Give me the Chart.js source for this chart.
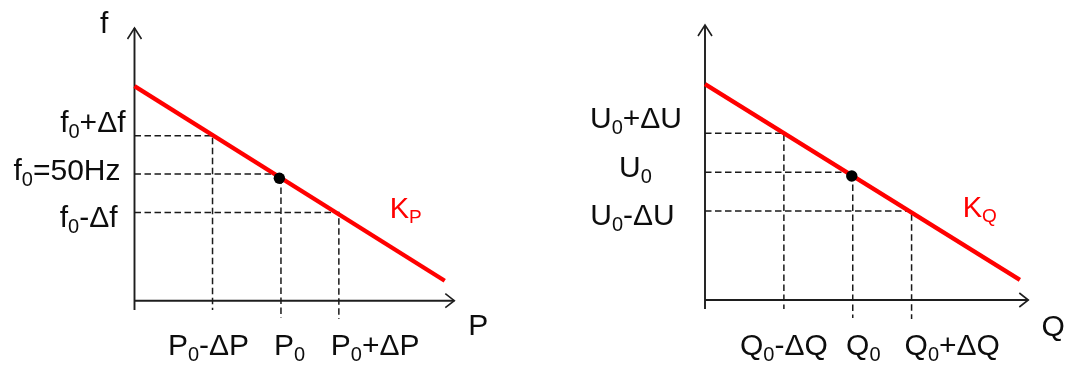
<!DOCTYPE html>
<html><head><meta charset="utf-8">
<script src="https://cdn.jsdelivr.net/npm/chart.js@4/dist/chart.umd.min.js"></script>
<style>
html,body{margin:0;padding:0;background:#fff;width:1067px;height:365px;overflow:hidden}
#cl{position:absolute;left:0;top:0}
#cr{position:absolute;left:533px;top:0}
</style></head><body>
<canvas id="cl" width="533" height="365"></canvas>
<canvas id="cr" width="534" height="365"></canvas>
<script>
// ---------------- data (axis units 0..100) ----------------
// Left panel: P-f droop
const pLineX   = [0, 97.0];
const pLineY   = [78.7, 7.3];
const pPointX  = [45.3];
const pPointY  = [44.9];
const pGuideX  = [24.4, 45.8, 63.9];
const pGuideY  = [60.5, 46.5, 32.3];
const pGuideEnd = [-3.4, -6.3, -6.7];
const pXTicks  = ['P_0-ΔP', 'P_0', 'P_0+ΔP'];
const pYTicks  = ['f_0+Δf', 'f_0=50Hz', 'f_0-Δf'];
const pXTitle  = 'P';
const pYTitle  = 'f';
const pCurve   = 'K_P';

// Right panel: Q-U droop
const qLineX   = [0, 97.4];
const qLineY   = [78.5, 7.3];
const qPointX  = [45.4];
const qPointY  = [45.1];
const qGuideX  = [24.4, 45.7, 63.9];
const qGuideY  = [60.6, 46.5, 32.4];
const qGuideEnd = [-3.3, -6.5, -6.9];
const qXTicks  = ['Q_0-ΔQ', 'Q_0', 'Q_0+ΔQ'];
const qYTicks  = ['U_0+ΔU', 'U_0', 'U_0-ΔU'];
const qXTitle  = 'Q';
const qYTitle  = '';
const qCurve   = 'K_Q';

// ---------------- layout / style ----------------
const FONT = '"Liberation Sans", Arial, Helvetica, sans-serif';
const TXT = '#0d0d0d';
const AXIS = '#1e1e1e';
const RED = '#ff0000';
const MAIN = 30, SUB = 20, SUBDY = 6;

const leftLayout = {
  padding: {left: 134.5, right: 78.7, top: 28, bottom: 64.3},
  axisExt: 9.3,
  xTickAlign: ['center', 'left', 'left'], xTickDx: [-4, -7, -8], xTickDy: 54.3,
  yTickAlign: ['right', 'right', 'right'], yTickDx: [-9, -14, -17], yTickDy: [-4.2, 6, 14.3],
  xTitleDx: 14, xTitleDy: 34.3, yTitleDx: -34.5, yTitleDy: 5,
  curveAt: [79.8, 30.2]
};
const rightLayout = {
  padding: {left: 172, right: 38.7, top: 25, bottom: 65},
  axisExt: 9,
  xTickAlign: ['center', 'left', 'left'], xTickDx: [0, -6.7, -7], xTickDy: 54.5,
  yTickAlign: ['center', 'center', 'center'], yTickDx: [-69, -69.5, -72.5], yTickDy: [-5.1, 4.6, 14.1],
  xTitleDx: 13.3, xTitleDy: 36, yTitleDx: -34.5, yTitleDy: 5,
  curveAt: [79.7, 30.1]
};

// ---------------- helpers ----------------
function rich(s) {
  const out = []; let buf = '';
  for (let i = 0; i < s.length; i++) {
    if (s[i] === '_') { if (buf) out.push({t: buf, sub: false}); buf = ''; out.push({t: s[i + 1], sub: true}); i++; }
    else buf += s[i];
  }
  if (buf) out.push({t: buf, sub: false});
  return out;
}
function drawRich(ctx, s, x, y, align, size, subSize, subDy, color) {
  const parts = rich(s);
  const fMain = size + 'px ' + FONT, fSub = subSize + 'px ' + FONT;
  let w = 0;
  parts.forEach(p => { ctx.font = p.sub ? fSub : fMain; p.w = ctx.measureText(p.t).width; w += p.w; });
  let cx = align === 'right' ? x - w : align === 'center' ? x - w / 2 : x;
  ctx.fillStyle = color; ctx.textBaseline = 'alphabetic'; ctx.textAlign = 'left';
  parts.forEach(p => { ctx.font = p.sub ? fSub : fMain; ctx.fillText(p.t, cx, p.sub ? y + subDy : y); cx += p.w; });
}

const droopPlugin = {
  id: 'droop',
  beforeDatasetsDraw(chart) {
    const L = chart.options.plugins.droop;
    const ctx = chart.ctx, xs = chart.scales.x, ys = chart.scales.y;
    const x0 = xs.getPixelForValue(0), y0 = ys.getPixelForValue(0);
    const xE = xs.getPixelForValue(100), yE = ys.getPixelForValue(100);
    ctx.save();
    ctx.strokeStyle = AXIS; ctx.lineWidth = 1.9; ctx.lineCap = 'butt';
    ctx.beginPath();
    ctx.moveTo(x0, y0 + L.layout.axisExt); ctx.lineTo(x0, yE);
    ctx.moveTo(x0, y0); ctx.lineTo(xE, y0);
    ctx.stroke();
    ctx.lineWidth = 1.6; ctx.lineJoin = 'miter';
    ctx.beginPath();
    ctx.moveTo(x0 - 7, yE + 11); ctx.lineTo(x0, yE); ctx.lineTo(x0 + 7, yE + 11);
    ctx.moveTo(xE - 9, y0 - 7); ctx.lineTo(xE, y0); ctx.lineTo(xE - 9, y0 + 7);
    ctx.stroke();
    ctx.restore();
  },
  afterDraw(chart) {
    const L = chart.options.plugins.droop, lay = L.layout;
    const ctx = chart.ctx, xs = chart.scales.x, ys = chart.scales.y;
    const x0 = xs.getPixelForValue(0), y0 = ys.getPixelForValue(0);
    const xE = xs.getPixelForValue(100), yE = ys.getPixelForValue(100);
    ctx.save();
    L.xTicks.forEach((t, i) => {
      drawRich(ctx, t, xs.getPixelForValue(L.guideX[i]) + lay.xTickDx[i], y0 + lay.xTickDy,
        lay.xTickAlign[i], MAIN, SUB, SUBDY, TXT);
    });
    L.yTicks.forEach((t, i) => {
      drawRich(ctx, t, x0 + lay.yTickDx[i], ys.getPixelForValue(L.guideY[i]) + lay.yTickDy[i],
        lay.yTickAlign[i], MAIN, SUB, SUBDY, TXT);
    });
    if (L.xTitle) drawRich(ctx, L.xTitle, xE + lay.xTitleDx, y0 + lay.xTitleDy, 'left', MAIN, SUB, SUBDY, TXT);
    if (L.yTitle) drawRich(ctx, L.yTitle, x0 + lay.yTitleDx, yE + lay.yTitleDy, 'left', MAIN, SUB, SUBDY, TXT);
    drawRich(ctx, L.curve, xs.getPixelForValue(lay.curveAt[0]), ys.getPixelForValue(lay.curveAt[1]),
      'left', 29, 19, 5, RED);
    ctx.restore();
  }
};

function makePanel(id, lineX, lineY, ptX, ptY, gX, gY, gEnd, xTicks, yTicks, xTitle, yTitle, curve, layout) {
  const guides = gX.map((gx, i) => ({
    data: [{x: 0, y: gY[i]}, {x: gx, y: gY[i]}, {x: gx, y: gEnd[i]}],
    showLine: true, borderColor: '#1a1a1a', borderWidth: 1.5, borderDash: [6.5, 3.5],
    pointRadius: 0, clip: false, order: 3
  }));
  const line = {
    data: lineX.map((x, i) => ({x, y: lineY[i]})),
    showLine: true, borderColor: RED, borderWidth: 4.3, borderCapStyle: 'butt',
    pointRadius: 0, clip: false, order: 2
  };
  const dot = {
    data: ptX.map((x, i) => ({x, y: ptY[i]})),
    showLine: false, pointRadius: 5.7, pointBackgroundColor: '#000', pointBorderWidth: 0,
    pointHoverRadius: 5.7, clip: false, order: 1
  };
  return new Chart(document.getElementById(id), {
    type: 'scatter',
    data: {datasets: [...guides, line, dot]},
    options: {
      responsive: false, animation: false, devicePixelRatio: 1, events: [],
      layout: {padding: layout.padding},
      scales: {
        x: {type: 'linear', min: 0, max: 100, display: false},
        y: {type: 'linear', min: 0, max: 100, display: false}
      },
      plugins: {
        legend: {display: false}, tooltip: {enabled: false},
        droop: {layout, guideX: gX, guideY: gY, xTicks, yTicks, xTitle, yTitle, curve}
      }
    },
    plugins: [droopPlugin]
  });
}

makePanel('cl', pLineX, pLineY, pPointX, pPointY, pGuideX, pGuideY, pGuideEnd,
  pXTicks, pYTicks, pXTitle, pYTitle, pCurve, leftLayout);
makePanel('cr', qLineX, qLineY, qPointX, qPointY, qGuideX, qGuideY, qGuideEnd,
  qXTicks, qYTicks, qXTitle, qYTitle, qCurve, rightLayout);
</script>
</body></html>
